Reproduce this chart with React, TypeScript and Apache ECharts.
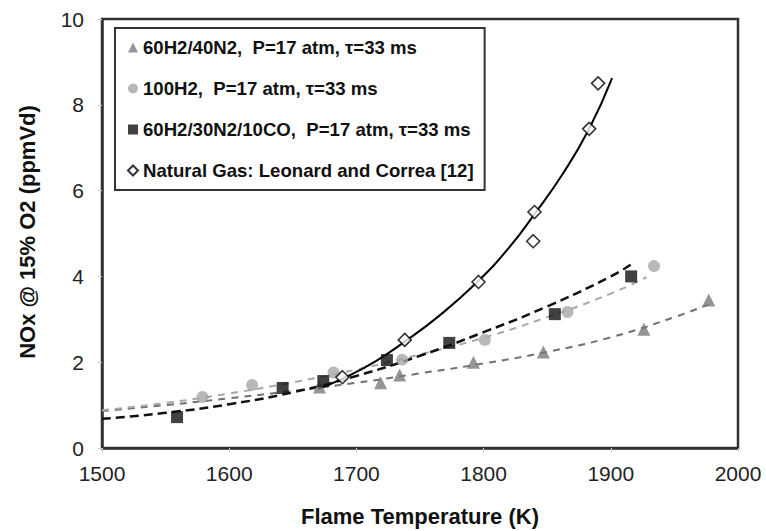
import React, { useEffect, useRef } from "react";
import * as echarts from "echarts";

// Measured points
const triName = "60H2/40N2,  P=17 atm, τ=33 ms";
const cirName = "100H2,  P=17 atm, τ=33 ms";
const sqName = "60H2/30N2/10CO,  P=17 atm, τ=33 ms";
const dmName = "Natural Gas: Leonard and Correa [12]";

const triData: [number, number][] = [
  [1671, 1.42], [1719, 1.52], [1734, 1.7], [1792, 2.0], [1847, 2.24], [1926, 2.77], [1977, 3.45],
];
const cirData: [number, number][] = [
  [1579, 1.19], [1618, 1.47], [1682, 1.76], [1736, 2.06], [1801, 2.52], [1866, 3.17], [1934, 4.24],
];
const sqData: [number, number][] = [
  [1559, 0.72], [1642, 1.4], [1674, 1.56], [1724, 2.05], [1773, 2.45], [1856, 3.12], [1916, 4.0],
];
const dmData: [number, number][] = [
  [1689, 1.65], [1738, 2.52], [1796, 3.87], [1840, 5.5], [1839, 4.82], [1883, 7.44], [1890, 8.5],
];

// Trend curves
const triFit: [number, number][] = [
  [1500, 0.86], [1550, 1.0], [1600, 1.16], [1650, 1.33], [1700, 1.52], [1750, 1.74],
  [1800, 1.97], [1850, 2.24], [1900, 2.58], [1950, 3.05], [1977, 3.35],
];
const cirFit: [number, number][] = [
  [1500, 0.88], [1550, 1.05], [1600, 1.27], [1650, 1.53], [1700, 1.83], [1750, 2.18],
  [1800, 2.57], [1850, 3.05], [1900, 3.6], [1928, 3.98],
];
const sqFit: [number, number][] = [
  [1500, 0.68], [1550, 0.82], [1600, 1.02], [1650, 1.3], [1700, 1.68], [1750, 2.15],
  [1800, 2.7], [1850, 3.3], [1900, 4.0], [1917, 4.3],
];
const ngFit: [number, number][] = [
  [1670, 1.38], [1690, 1.63], [1715, 2.02], [1738, 2.48], [1765, 3.08], [1795, 3.87],
  [1820, 4.67], [1840, 5.45], [1862, 6.38], [1883, 7.44], [1901, 8.62],
];

const xTicks = { min: 1500, max: 2000, interval: 100 };
const yTicks = { min: 0, max: 10, interval: 2 };

const FONT = "'Liberation Sans', Arial, sans-serif";

export default function App() {
  const ref = useRef<HTMLDivElement>(null);
  useEffect(() => {
    if (!ref.current) return;
    const chart = echarts.init(ref.current, null, { renderer: "svg" });
    const lineBase = { type: "line" as const, showSymbol: false, smooth: true, z: 2, silent: true };
    chart.setOption({
      animation: false,
      backgroundColor: "#fff",
      grid: {
        left: 102, right: 28, top: 19, bottom: 83,
        show: true, borderColor: "#333", borderWidth: 2.5, backgroundColor: "#fff",
      },
      xAxis: {
        type: "value", ...xTicks,
        axisLine: { show: true, lineStyle: { color: "#333", width: 2.5 } },
        axisTick: { show: true, length: 4, lineStyle: { color: "#ccc" } },
        axisLabel: {
          color: "#222", fontSize: 21, fontFamily: FONT, margin: 15,
          formatter: (v: number) => String(v),
        },
        splitLine: { show: false },
      },
      yAxis: {
        type: "value", ...yTicks,
        axisLine: { show: true, lineStyle: { color: "#333", width: 2.5 } },
        axisTick: { show: true, length: 4, lineStyle: { color: "#ccc" } },
        axisLabel: { color: "#222", fontSize: 21, fontFamily: FONT, margin: 18 },
        splitLine: { show: false },
      },
      legend: {
        orient: "vertical", left: 115, top: 28,
        data: [triName, cirName, sqName, dmName],
        backgroundColor: "#fff",
        borderColor: "#333", borderWidth: 2, padding: [10, 11, 10, 12],
        itemGap: 22, itemWidth: 10, itemHeight: 10,
        textStyle: { fontFamily: FONT, fontWeight: "bold", fontSize: 18.6, color: "#111", lineHeight: 18 },
      },
      graphic: [
        {
          type: "text", x: 27, y: 232, rotation: Math.PI / 2,
          style: {
            text: "NOx @ 15% O2 (ppmVd)", font: `bold 22px ${FONT}`, fill: "#111",
            textAlign: "center", textVerticalAlign: "middle",
          },
        },
        {
          type: "text", x: 420, y: 516,
          style: {
            text: "Flame Temperature (K)", font: `bold 22px ${FONT}`, fill: "#111",
            textAlign: "center", textVerticalAlign: "middle",
          },
        },
      ],
      series: [
        { ...lineBase, name: "triFit", data: triFit, lineStyle: { color: "#707070", width: 2, type: [7, 6] } },
        { ...lineBase, name: "cirFit", data: cirFit, lineStyle: { color: "#a8a8a8", width: 2, type: [7, 6] } },
        { ...lineBase, name: "sqFit", data: sqFit, lineStyle: { color: "#111", width: 2.5, type: [9, 5] } },
        { ...lineBase, name: "ngFit", data: ngFit, lineStyle: { color: "#000", width: 2, type: "solid" } },
        { type: "scatter", name: triName, data: triData, symbol: "triangle", symbolSize: 13, z: 3,
          itemStyle: { color: "#7a7a7a" } },
        { type: "scatter", name: cirName, data: cirData, symbol: "circle", symbolSize: 12, z: 3,
          itemStyle: { color: "#a6a6a6" } },
        { type: "scatter", name: sqName, data: sqData, symbol: "rect", symbolSize: 12, z: 3,
          itemStyle: { color: "#111" } },
        { type: "scatter", name: dmName, data: dmData, symbol: "diamond", symbolSize: 13, z: 4,
          itemStyle: { color: "#fff", borderColor: "#000", borderWidth: 1.6 } },
      ],
    });
    return () => chart.dispose();
  }, []);
  return (
    <div
      ref={ref}
      style={{ position: "fixed", left: 0, top: 0, width: 766, height: 531, overflow: "hidden" }}
    />
  );
}
